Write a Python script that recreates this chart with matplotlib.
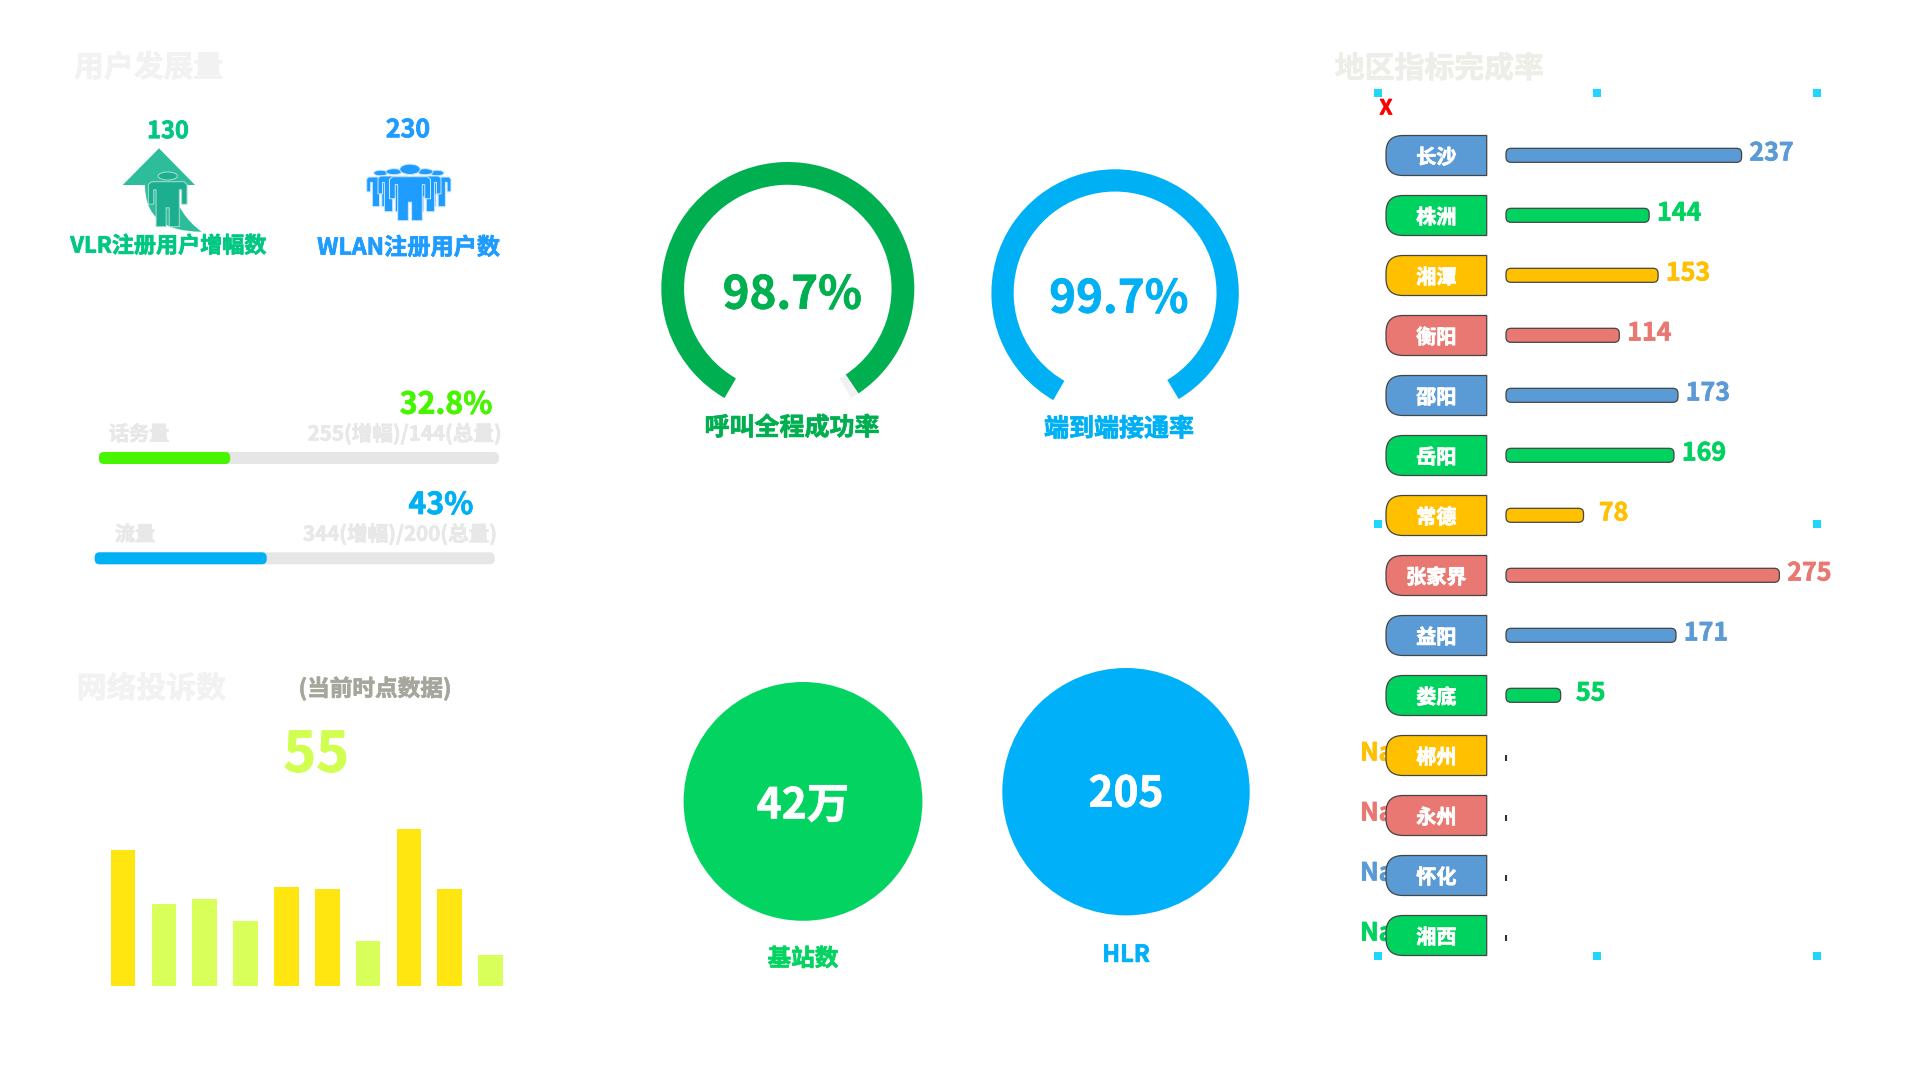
import numpy as np
import matplotlib
matplotlib.use('Agg')
import matplotlib.pyplot as plt
import matplotlib.patheffects as pe
from matplotlib.patches import Circle, Ellipse, FancyBboxPatch, PathPatch, Polygon, Rectangle
from matplotlib.path import Path

plt.rcParams['font.family'] = ['Noto Sans CJK SC', 'DejaVu Sans']
plt.rcParams['font.weight'] = 'bold'

W, H = 1920, 1080

# data
complaint_values = [90.5, 55, 58, 43.5, 66, 64.5, 30, 105, 65, 21]
complaint_high = [True, False, False, False, True, True, False, True, True, False]
progress_names = ['话务量', '流量']
progress_pct = [32.8, 43]
progress_notes = ['255(增幅)/144(总量)', '344(增幅)/200(总量)']
gauge_names = ['呼叫全程成功率', '端到端接通率']
gauge_values = [98.7, 99.7]
circle_names = ['基站数', 'HLR']
circle_texts = ['42万', '205']
cities = ['长沙', '株洲', '湘潭', '衡阳', '邵阳', '岳阳', '常德', '张家界', '益阳', '娄底',
          '郴州', '永州', '怀化', '湘西']
city_values = [237, 144, 153, 114, 173, 169, 78, 275, 171, 55,
               np.nan, np.nan, np.nan, np.nan]
city_colors = ['#5b9bd5', '#00d25f', '#ffc000', '#e97872']

fig = plt.figure(figsize=(W / 100, H / 100), dpi=100, facecolor='white')


def ax_px(x0, y0, x1, y1, zorder=1):
    # axes placed by pixel box, y counted from the top of the image
    ax = fig.add_axes([x0 / W, 1 - y1 / H, (x1 - x0) / W, (y1 - y0) / H], zorder=zorder)
    ax.axis('off')
    return ax


def rounded_bar(ax, left, y, length, height, radius, px_x, px_y, **style):
    patch = FancyBboxPatch((left, y - height / 2), length, height,
                           boxstyle=f'round,pad=0,rounding_size={radius / px_x}',
                           mutation_aspect=px_x / px_y, clip_on=False, **style)
    ax.add_patch(patch)


# overlay in image pixels for titles, icons, name tags
over = ax_px(0, 0, W, H, zorder=5)
over.set_xlim(0, W)
over.set_ylim(H, 0)


def heavy(color, amount=0.5):
    return [pe.withStroke(linewidth=amount, foreground=color)]


def label(x, y, s, size, color, ha='center', ax=over):
    # the CJK font sits a little high with va=center
    ax.text(x, y + 0.11 * size + 0.3, s, fontsize=size, color=color, ha=ha, va='center',
            path_effects=heavy(color))


def person(cx, head_y, top, bottom, width, color, edge):
    pts = [(-.42, 0), (.42, 0), (.5, .06), (.5, .5), (.36, .5), (.36, .18), (.3, .18), (.3, 1),
           (.04, 1), (.04, .58), (-.04, .58), (-.04, 1), (-.3, 1), (-.3, .18), (-.36, .18),
           (-.36, .5), (-.5, .5), (-.5, .06)]
    xy = [(cx + px * width, top + py * (bottom - top)) for px, py in pts]
    over.add_patch(Polygon(xy, closed=True, fc=color, ec=edge, lw=0.7, joinstyle='round'))
    over.add_patch(Ellipse((cx, head_y), width * 0.5, (top - head_y) * 1.4, fc=color, ec=edge, lw=0.7))


# ---- top left: user growth
label(74, 65, '用户发展量', 21.5, '#f2f2f2', ha='left')
label(168, 129, '130', 17, '#00c882')
label(408, 128, '230', 18, '#1f9cff')

arrow_col = '#2dbd9b'
over.add_patch(Polygon([(159, 148.3), (122.7, 185), (195, 185)], closed=True, fc=arrow_col, ec='none'))
tail = Path([(145, 185), (145, 232), (201.7, 231.7), (178, 215), (172, 185), (145, 185)],
            [Path.MOVETO, Path.CURVE3, Path.CURVE3, Path.CURVE3, Path.CURVE3, Path.CLOSEPOLY])
over.add_patch(PathPatch(tail, fc=arrow_col, ec='none'))
person(167.7, 176, 181.7, 226.7, 38.7, '#1cae8e', '#a8e0d0')

group_col = '#1f9cff'
for cx, head, top, bot, w in [(380.7, 173, 177, 206.7, 28), (437, 173, 177, 206.7, 28),
                              (394, 171.7, 176, 211.7, 32), (425, 171.7, 176, 211.7, 32),
                              (410, 169.3, 176.7, 220.7, 41)]:
    person(cx, head, top, bot, w, group_col, '#cfe8ff')

label(168.5, 244, 'VLR注册用户增幅数', 15.9, '#00c882')
label(408.5, 246, 'WLAN注册用户数', 16.7, '#1f9cff')

# ---- progress bars
progress_box = [(99, 452), (94.7, 552.3)]
progress_cols = ['#47f500', '#00b0f5']
progress_name_x = [139, 135]
progress_note_x = [502, 497.3]
progress_pct_x = [446, 441]
for i, pct in enumerate(progress_pct):
    x0, y0 = progress_box[i]
    ax = ax_px(x0, y0, x0 + 400, y0 + 12)
    ax.set_xlim(0, 100)
    ax.set_ylim(-0.5, 0.5)
    rounded_bar(ax, 0, 0, 100, 1, 5, 4, 12, fc='#e6e6e6', ec='none')
    rounded_bar(ax, 0, 0, pct, 1, 5, 4, 12, fc=progress_cols[i], ec='none')
    label(progress_name_x[i], y0 - 20, progress_names[i], 14.5, '#e8e8e8')
    label(progress_note_x[i], y0 - 20, progress_notes[i], 14.8, '#e8e8e8', ha='right')
    label(progress_pct_x[i], y0 - 50, f'{pct}%', 21.8, progress_cols[i])

# ---- complaints
label(76.7, 686, '网络投诉数', 21.5, '#f2f2f2', ha='left')
label(375, 686.7, '(当前时点数据)', 16.3, '#a6a69c')
label(316, 751, '55', 40, '#d0ff50')

ax = ax_px(102.6, 821, 511, 986)
ax.bar(range(len(complaint_values)), complaint_values, width=0.605,
       color=['#ffe610' if h else '#d8ff5a' for h in complaint_high])
ax.set_xlim(-0.5, 9.5)
ax.set_ylim(0, 110)
ax.axis('off')

# ---- gauges
gauge_box = [(787.8, 288.5, 126.5), (1115.1, 293, 123.7)]
gauge_cols = ['#00b050', '#00b0f5']
gauge_text_xy = [(792.4, 291.7), (1119, 295.7)]
gauge_name_xy = [(792, 425.7), (1119, 427)]
for i, val in enumerate(gauge_values):
    cx, cy, r = gauge_box[i]
    ax = ax_px(cx - r, cy - r, cx + r, cy + r)
    ax.pie([val, 100 - val, 20], colors=[gauge_cols[i], '#f2f2f2', 'none'], startangle=240,
           counterclock=False, radius=1, wedgeprops=dict(width=0.18))
    ax.set_xlim(-1, 1)
    ax.set_ylim(-1, 1)
    label(*gauge_text_xy[i], f'{val}%', 32.8, gauge_cols[i])
    label(*gauge_name_xy[i], gauge_names[i], 18, gauge_cols[i])

# ---- filled circles
circle_box = [(803, 801.4, 119.4), (1126, 791.7, 123.7)]
circle_cols = ['#03d361', '#00b1fa']
circle_text_y = [802.7, 791]
circle_name_y = [956.7, 952.7]
for i, (cx, cy, r) in enumerate(circle_box):
    over.add_patch(Circle((cx, cy), r, fc=circle_cols[i], ec='none'))
    label(cx, circle_text_y[i], circle_texts[i], 30.5, 'white')
    label(cx, circle_name_y[i], circle_names[i], 17, circle_cols[i])

# ---- region completion
label(1334.8, 66, '地区指标完成率', 21.5, '#eeeee9', ha='left')
label(1386, 106, 'X', 15, 'red')
for sx in [1377.9, 1597.2, 1817]:
    for sy in [92.7, 524, 955.7]:
        if sy == 524 and sx == 1597.2:
            continue
        over.add_patch(Rectangle((sx - 4, sy - 4), 8, 8, fc='#1fd6ff', ec='none'))

row0, pitch = 155.3, 60
px_unit = 0.994
ax = ax_px(1506, row0 - pitch / 2, 1506 + 300 * px_unit, row0 + 13.5 * pitch, zorder=2)
ax.set_xlim(0, 300)
ax.set_ylim(13.5, -0.5)
for i, (city, val) in enumerate(zip(cities, city_values)):
    col = city_colors[i % 4]
    if np.isnan(val):
        ax.vlines(0.5, i, i + 0.1, color='#333333', lw=1.5, clip_on=False)
        ax.text((1360 - 1506) / px_unit, i - 0.03, 'NaN', fontsize=18, color=col, ha='left', va='center',
                path_effects=heavy(col))
    else:
        rounded_bar(ax, 0, i, val, 14 / pitch, 5, px_unit, pitch, fc=col, ec='#444444', lw=0.9)
        ax.text(val + 30 / px_unit, i - 0.03, f'{val}', fontsize=18, color=col, ha='center', va='center',
                path_effects=heavy(col))
    # name tag, rounded on the left side
    x0, x1 = 1386, 1486.7
    y0, y1 = row0 + i * pitch - 19.8, row0 + i * pitch + 20.2
    r = 17
    tag = Path([(x1, y0), (x0 + r, y0), (x0, y0), (x0, y0 + r), (x0, y1 - r), (x0, y1), (x0 + r, y1),
                (x1, y1), (x1, y0)],
               [Path.MOVETO, Path.LINETO, Path.CURVE3, Path.CURVE3, Path.LINETO, Path.CURVE3, Path.CURVE3,
                Path.LINETO, Path.CLOSEPOLY])
    over.add_patch(PathPatch(tag, fc=col, ec='#444444', lw=0.9))
    label(1436.3, row0 + i * pitch, city, 14.5, 'white')

fig.savefig('out.png', dpi=100, facecolor='white')
